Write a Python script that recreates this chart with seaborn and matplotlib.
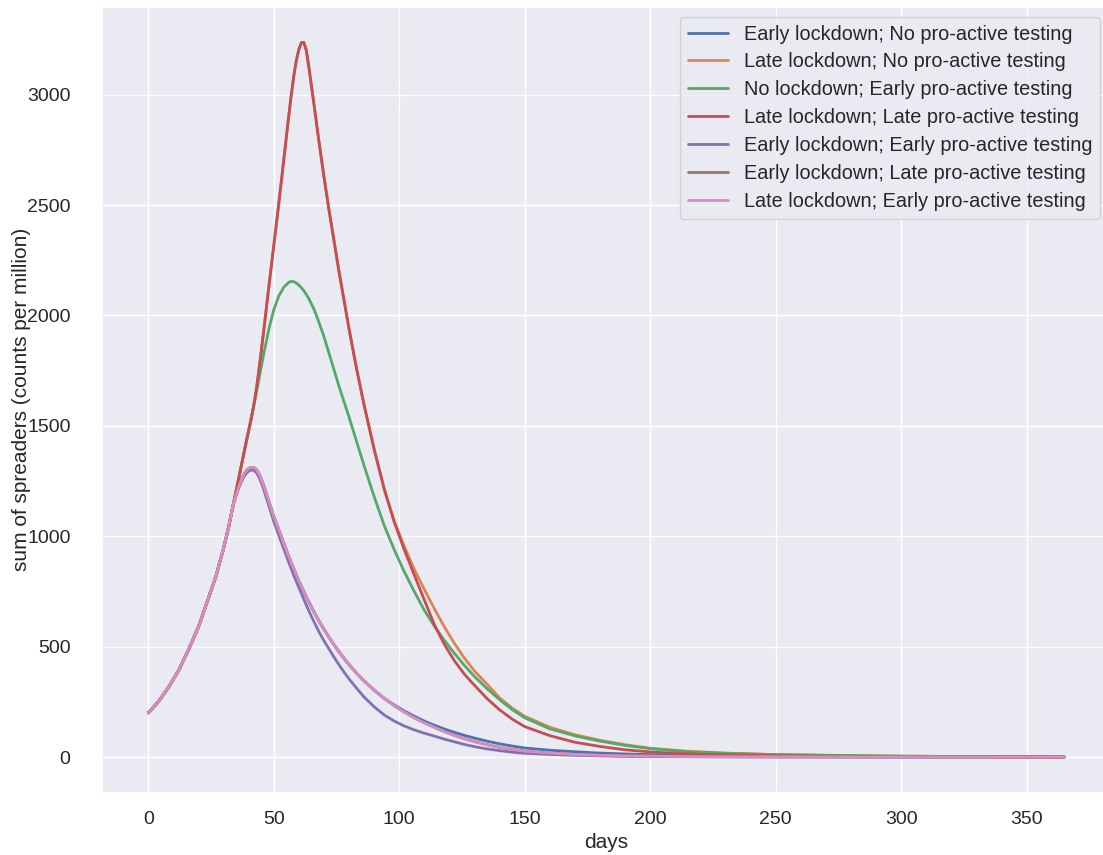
import matplotlib
matplotlib.use('Agg')
import matplotlib.pyplot as plt
import seaborn as sns

sns.set_theme(style='darkgrid')
plt.rcParams['font.family'] = ['Liberation Sans', 'DejaVu Sans']

# ----------------------------------------------------------------------
# values (counts per million)
# ----------------------------------------------------------------------
days = [0, 4, 8, 12, 16, 20, 24, 27, 30, 32, 34,
        36, 38, 39, 40, 41, 42, 43, 44, 45, 46,
        48, 50, 52, 54, 56, 57, 58, 59, 60,
        61, 62, 63, 64, 66, 68, 70, 72, 74, 76,
        78, 80, 83, 86, 90, 94, 98, 102, 106, 110,
        114, 118, 122, 126, 130, 135, 140, 145, 150, 160,
        170, 180, 190, 200, 215, 230, 250, 270, 300, 330,
        365]

# shared growth phase, day 0 - 34
rise = [200, 250, 315, 390, 485, 590, 720, 820, 945, 1040, 1150]

early_lock_no_test = rise + [
    1222, 1278, 1296, 1307, 1312, 1312, 1303, 1286, 1260, 1230,
    1160, 1090, 1030, 968, 908, 879, 852, 825, 798,
    773, 749, 725, 702, 658, 617, 579, 543, 509, 477,
    447, 419, 380, 345, 303, 266, 236, 209, 185, 163,
    144, 127, 112, 98, 86, 72, 60, 50, 41, 31,
    24, 18, 14, 11, 7, 5, 3, 2, 1, 0.5,
    0.3]

late_lock_no_test = rise + [
    1260, 1370, 1425, 1478, 1532, 1590, 1660, 1745, 1835, 1930,
    2125, 2315, 2505, 2705, 2905, 3000, 3085, 3155, 3205,
    3235, 3237, 3200, 3125, 2960, 2790, 2630, 2480, 2340, 2200,
    2070, 1940, 1760, 1595, 1395, 1215, 1070, 955, 850, 760,
    672, 590, 515, 448, 390, 330, 268, 222, 185, 135,
    101, 76, 56, 40, 26, 18, 11, 8, 4, 2,
    1]

no_lock_early_test = rise + [
    1260, 1370, 1425, 1478, 1532, 1588, 1645, 1705, 1765, 1825,
    1935, 2025, 2088, 2128, 2150, 2155, 2153, 2147, 2138,
    2126, 2112, 2095, 2076, 2030, 1970, 1905, 1830, 1755, 1680,
    1610, 1540, 1430, 1320, 1180, 1050, 940, 840, 750, 665,
    593, 528, 470, 415, 365, 310, 260, 215, 178, 128,
    96, 72, 53, 38, 24, 17, 11, 8, 4, 2,
    1]

late_lock_late_test = rise + [
    1260, 1370, 1425, 1478, 1532, 1590, 1660, 1745, 1835, 1930,
    2125, 2315, 2505, 2705, 2905, 3000, 3085, 3155, 3205,
    3235, 3237, 3200, 3125, 2960, 2790, 2630, 2480, 2340, 2200,
    2070, 1940, 1760, 1595, 1395, 1215, 1065, 940, 825, 712,
    600, 510, 436, 375, 325, 265, 214, 172, 138, 97,
    67, 48, 33, 23, 14, 10, 6, 4, 2, 1,
    0.5]

early_lock_early_test = rise + [
    1218, 1268, 1284, 1295, 1300, 1299, 1289, 1271, 1244, 1212,
    1140, 1068, 1005, 943, 882, 852, 822, 795, 768,
    742, 714, 688, 662, 614, 568, 527, 490, 453, 418,
    385, 354, 312, 272, 228, 191, 163, 141, 123, 108,
    95, 81, 69, 57, 47, 37, 29, 22, 17, 12,
    8, 5, 3, 2, 1.5, 1, 0.5, 0.3, 0.2, 0.1,
    0.1]

early_lock_late_test = rise + [
    1222, 1278, 1296, 1307, 1312, 1312, 1303, 1286, 1260, 1230,
    1160, 1090, 1030, 968, 908, 879, 852, 825, 798,
    773, 749, 725, 702, 658, 617, 579, 543, 509, 477,
    447, 419, 380, 345, 303, 266, 233, 204, 178, 155,
    135, 115, 98, 83, 70, 56, 44, 35, 27, 18,
    12, 8, 5, 4, 2, 1.5, 1, 0.5, 0.3, 0.2,
    0.1]

late_lock_early_test = rise + [
    1222, 1278, 1296, 1307, 1312, 1312, 1303, 1286, 1260, 1230,
    1160, 1090, 1030, 968, 908, 879, 852, 825, 798,
    773, 749, 725, 702, 658, 617, 579, 543, 509, 477,
    447, 419, 380, 345, 303, 266, 233, 204, 178, 155,
    135, 115, 98, 83, 70, 56, 44, 35, 27, 18,
    12, 8, 5, 4, 2, 1.5, 1, 0.5, 0.3, 0.2,
    0.1]

labels = ['Early lockdown; No pro-active testing',
          'Late lockdown; No pro-active testing',
          'No lockdown; Early pro-active testing',
          'Late lockdown; Late pro-active testing',
          'Early lockdown; Early pro-active testing',
          'Early lockdown; Late pro-active testing',
          'Late lockdown; Early pro-active testing']

series = [early_lock_no_test, late_lock_no_test, no_lock_early_test,
          late_lock_late_test, early_lock_early_test, early_lock_late_test,
          late_lock_early_test]

# ----------------------------------------------------------------------
# plot
# ----------------------------------------------------------------------
palette = sns.color_palette('deep')

fig = plt.figure(figsize=(11.03, 8.55), dpi=100)
ax = fig.add_axes([0.0929, 0.0728, 0.9134, 0.9194])

for i, (vals, lab) in enumerate(zip(series, labels)):
    sns.lineplot(x=days, y=vals, label=lab, color=palette[i], linewidth=2.0, ax=ax)

ax.set_xticks([0, 50, 100, 150, 200, 250, 300, 350])
ax.set_yticks([0, 500, 1000, 1500, 2000, 2500, 3000])
ax.tick_params(axis='x', labelsize=14, pad=7)
ax.tick_params(axis='y', labelsize=14, pad=17)
ax.set_xlabel('days', fontsize=15)
ax.set_ylabel('sum of spreaders (counts per million)', fontsize=15)
ax.yaxis.set_label_coords(-0.071, 0.5)
ax.legend(loc='upper right', fontsize=14.3, labelspacing=0.445)

fig.savefig('out.png', dpi=100)
